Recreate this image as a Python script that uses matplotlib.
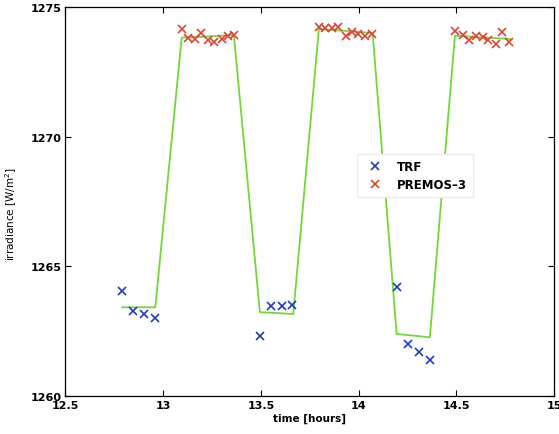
import matplotlib
matplotlib.use("Agg")
import matplotlib.pyplot as plt

# TRF measurements
trf_t = [12.79, 12.847, 12.90, 12.96, 13.495, 13.55, 13.606, 13.66,
         14.195, 14.254, 14.309, 14.365]
trf_v = [1264.06, 1263.26, 1263.16, 1263.0, 1262.32, 1263.46, 1263.46, 1263.52,
         1264.21, 1262.0, 1261.71, 1261.39]

# PREMOS-3 measurements
premos_t = [13.095, 13.128, 13.163, 13.192, 13.231, 13.262, 13.299, 13.333, 13.362,
            13.797, 13.828, 13.862, 13.896, 13.934, 13.965, 13.998, 14.033, 14.067,
            14.493, 14.533, 14.567, 14.601, 14.635, 14.664, 14.702, 14.732, 14.770]
premos_v = [1274.15, 1273.79, 1273.77, 1273.99, 1273.74, 1273.64, 1273.77, 1273.87, 1273.92,
            1274.24, 1274.18, 1274.18, 1274.22, 1273.87, 1274.02, 1273.96, 1273.87, 1273.96,
            1274.09, 1273.93, 1273.74, 1273.87, 1273.83, 1273.74, 1273.57, 1274.02, 1273.66]

# green reference line
line_t = [12.79, 12.96, 13.095, 13.2, 13.362, 13.495, 13.58, 13.666,
          13.797, 13.93, 14.072, 14.195, 14.28, 14.365, 14.493, 14.63, 14.775]
line_v = [1263.42, 1263.42, 1273.82, 1273.85, 1273.92, 1263.23, 1263.2, 1263.16,
          1274.15, 1274.08, 1274.0, 1262.39, 1262.33, 1262.26, 1273.89, 1273.83, 1273.77]

xticks = [12.5, 13, 13.5, 14, 14.5, 15]
xtick_labels = ["12.5", "13", "13.5", "14", "14.5", "15"]
yticks = [1260, 1265, 1270, 1275]

fig = plt.figure(figsize=(5.59, 4.35), dpi=100)
ax = fig.add_axes([0.117, 0.0874, 0.874, 0.8942])

ax.plot(line_t, line_v, color="#72d83a", lw=1.3, zorder=2)
ax.plot(trf_t, trf_v, linestyle="none", marker="x", color="#2038c4",
        markersize=6, mew=1.2, label="TRF", zorder=3)
ax.plot(premos_t, premos_v, linestyle="none", marker="x", color="#dd4433",
        markersize=6, mew=1.2, label="PREMOS\u20133", zorder=3)

ax.set_xlim(12.5, 15)
ax.set_ylim(1260, 1275)
ax.set_xticks(xticks)
ax.set_xticklabels(xtick_labels)
ax.set_yticks(yticks)
ax.tick_params(direction="in", top=True, right=True, length=4, width=0.8,
               labelsize=8, pad=3)
for lbl in ax.get_xticklabels() + ax.get_yticklabels():
    lbl.set_fontweight("bold")
for s in ax.spines.values():
    s.set_linewidth(0.9)

ax.set_xlabel("time [hours]", fontsize=7.5, fontweight="bold", labelpad=2)
ax.set_ylabel("irradiance [W/m$^2$]", fontsize=7.5, labelpad=6)
ax.yaxis.set_label_coords(-0.095, 0.47)

leg = ax.legend(loc="upper left", bbox_to_anchor=(0.597, 0.622), fontsize=8.5,
                frameon=True, fancybox=False, edgecolor="#ececec",
                framealpha=1, handlelength=2.0, handletextpad=0.9,
                borderpad=0.5, labelspacing=0.45, borderaxespad=0)
for t in leg.get_texts():
    t.set_fontweight("bold")

fig.savefig("out.png", dpi=100)
